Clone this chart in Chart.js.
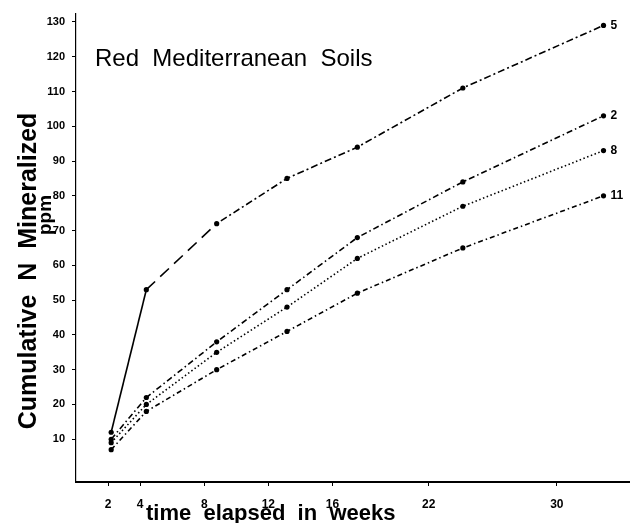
<!DOCTYPE html>
<html>
<head>
<meta charset="utf-8">
<script src="https://cdn.jsdelivr.net/npm/chart.js@4.4.1/dist/chart.umd.min.js"></script>
<style>
    html, body { margin: 0; padding: 0; background: #fff; }
    #wrap { width: 633px; height: 523px; }
</style>
</head>
<body>
<div id="wrap"><canvas id="soilChart" width="633" height="523"></canvas></div>
<script>
// Weeks of incubation
const weeks = [2, 4, 8, 12, 16, 22, 30];

// Cumulative N mineralized (ppm), one array per soil
const soil5 = [12, 53, 72, 85, 94, 111, 129];
const soil2 = [10, 22, 38, 53, 68, 84, 103];
const soil8 = [9, 20, 35, 48, 62, 77, 93];
const soil11 = [7, 18, 30, 41, 52, 65, 80];

const soilNames = ['5', '2', '8', '11'];
const xTickLabels = [2, 4, 8, 12, 16, 22, 30];
const yTickLabels = [10, 20, 30, 40, 50, 60, 70, 80, 90, 100, 110, 120, 130];

function toPoints(values) {
    return weeks.map((w, i) => ({ x: w, y: values[i] }));
}

function makeDataset(label, values, dash, firstDash) {
    return {
        label: label,
        data: toPoints(values),
        borderColor: '#000',
        backgroundColor: '#000',
        borderWidth: 1.6,
        borderDash: dash,
        pointRadius: 2.6,
        pointBorderWidth: 0,
        pointBackgroundColor: '#000',
        tension: 0,
        fill: false,
        segment: {
            borderDash: ctx => (firstDash && ctx.p0DataIndex < firstDash.length) ? firstDash[ctx.p0DataIndex] : dash
        }
    };
}

// draws axis titles, the plot title and the soil numbers at line ends
const textPlugin = {
    id: 'textPlugin',
    afterDraw(chart) {
        const c = chart.ctx;
        c.save();
        c.fillStyle = '#000';

        // plot title
        c.font = '24px "Liberation Sans", Arial, sans-serif';
        c.textAlign = 'left';
        c.textBaseline = 'alphabetic';
        c.fillText('Red  Mediterranean  Soils', 95, 66);

        // x axis title
        c.font = 'bold 22px "Liberation Sans", Arial, sans-serif';
        c.fillText('time  elapsed  in  weeks', 146, 520);

        // y axis title (two lines, rotated)
        c.save();
        c.translate(36, 271);
        c.rotate(-Math.PI / 2);
        c.textAlign = 'center';
        c.font = 'bold 25px "Liberation Sans", Arial, sans-serif';
        c.fillText('Cumulative  N  Mineralized', 0, 0);
        c.restore();

        c.save();
        c.translate(51, 215);
        c.rotate(-Math.PI / 2);
        c.textAlign = 'center';
        c.font = 'bold 19px "Liberation Sans", Arial, sans-serif';
        c.fillText('ppm', 0, 0);
        c.restore();

        // soil numbers next to the last point of each line
        c.font = 'bold 12px "Liberation Sans", Arial, sans-serif';
        c.textAlign = 'left';
        c.textBaseline = 'middle';
        chart.data.datasets.forEach((ds, i) => {
            const meta = chart.getDatasetMeta(i);
            const last = meta.data[meta.data.length - 1];
            c.fillText(soilNames[i], last.x + 7, last.y);
        });
        c.restore();
    }
};

const ctx = document.getElementById('soilChart').getContext('2d');
new Chart(ctx, {
    type: 'line',
    data: {
        datasets: [
            makeDataset('5', soil5, [2, 3, 7, 3], [[], [12, 7]]),
            makeDataset('2', soil2, [6, 3, 1.5, 3]),
            makeDataset('8', soil8, [1.5, 2.5]),
            makeDataset('11', soil11, [5, 3, 1.5, 3])
        ]
    },
    options: {
        responsive: false,
        animation: false,
        layout: { padding: { top: 12, right: 1, left: 0, bottom: 0 } },
        plugins: {
            legend: { display: false },
            tooltip: { enabled: false }
        },
        scales: {
            x: {
                type: 'linear',
                display: false,
                min: 0,
                max: 31.45
            },
            xl: {
                type: 'linear',
                position: 'bottom',
                min: 0,
                max: 34.5,
                afterBuildTicks: scale => { scale.ticks = xTickLabels.map(v => ({ value: v })); },
                afterFit: scale => { scale.height = 41; },
                grid: { drawOnChartArea: false, drawTicks: true, tickLength: 4, color: '#000', lineWidth: 1 },
                border: { color: '#000', width: 2 },
                ticks: {
                    color: '#000',
                    padding: 11,
                    maxRotation: 0,
                    autoSkip: false,
                    font: { family: '"Liberation Sans", Arial, sans-serif', size: 12, weight: 'bold' }
                }
            },
            y: {
                type: 'linear',
                position: 'left',
                min: -2.3,
                max: 132.4,
                afterBuildTicks: scale => { scale.ticks = yTickLabels.map(v => ({ value: v })); },
                afterFit: scale => { scale.width = 76; },
                grid: { drawOnChartArea: false, drawTicks: true, tickLength: 4, color: '#000', lineWidth: 1 },
                border: { color: '#000', width: 1.2, dash: [6, 3] },
                ticks: {
                    color: '#000',
                    padding: 7,
                    font: { family: '"Liberation Sans", Arial, sans-serif', size: 11, weight: 'bold' }
                }
            }
        }
    },
    plugins: [textPlugin]
});
</script>
</body>
</html>
